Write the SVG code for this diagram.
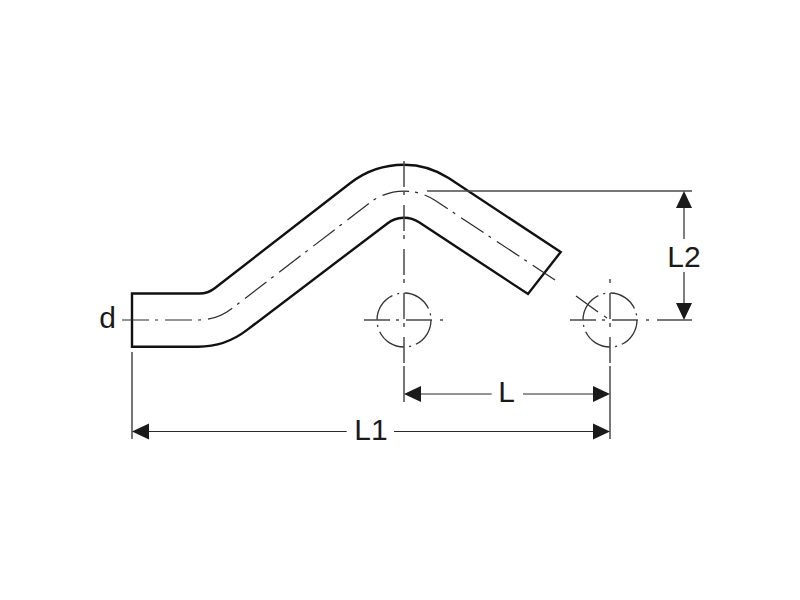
<svg xmlns="http://www.w3.org/2000/svg" width="800" height="600" viewBox="0 0 800 600">
<style>
.pipe{fill:none;stroke:#111;stroke-width:2.4;stroke-linejoin:miter}
.thin{fill:none;stroke:#2a2a2a;stroke-width:1.2}
.axis{fill:none;stroke:#4a4a4a;stroke-width:1.5}
.cl{stroke-dasharray:27 6 3 7}
.hole{fill:none;stroke:#333;stroke-width:1.3;stroke-dasharray:30 5 2 5.410}
.vert{stroke-dasharray:26 4 4 10}
.horz{stroke-dasharray:26 6 3 7 26 8 3}
.arrow{fill:#1a1a1a}
text{font-family:"Liberation Sans",Arial,sans-serif;font-size:30px;fill:#1a1a1a;text-anchor:middle}
</style>
<rect width="800" height="600" fill="#fff"/>
<g id="pipe">
<path class="pipe" d="M132 293.500H199.400A25 25 0 0 0 214.700 288.200L350.100 183.200A87.800 87.800 0 0 1 404 164.700A81 81 0 0 1 448.600 178.100L560.700 252L528 294L419.100 222.300A27 27 0 0 0 387.700 223.200L246.800 330.100A80 80 0 0 1 197.600 346.700H132Z"/>
</g>
<g id="connectors">
<path class="thin cl" d="M122 320H199A53 53 0 0 0 231.200 309L369.800 202.800A56 56 0 0 1 434.900 200.300L555 280"/>
<path class="axis vert" d="M404 161V363"/>
<path class="axis" d="M404 366V402"/>
<path class="axis vert" stroke-dashoffset="30" d="M610 279V363"/>
<path class="axis" d="M610 366V439"/>
<path class="axis" d="M132 352V439"/>
<path class="axis horz" d="M364 320H443"/>
<path class="axis horz" d="M570 320H651"/>
<path class="axis" d="M657 320H692"/>
<path class="axis" d="M427 191H692"/>
<path class="thin" d="M576 296L598 312M604 316L607 318"/>
<path class="thin" d="M421 394H491.700M523 394H593"/>
<path class="thin" d="M149 431.500H346.700M394 431.500H593"/>
<path class="thin" d="M684 208V239M684 272V303"/>
<path class="arrow" d="M404 394l17-8v16zM610 394l-17-8v16zM132 431.500l17-8v16zM610 431.500l-17-8v16zM684 191l-8 17h16zM684 320l-8-17h16z"/>
</g>
<g id="hole-left"><circle class="hole" cx="404" cy="320" r="27"/></g>
<g id="hole-right"><circle class="hole" cx="610" cy="320" r="27"/></g>
<g id="labels">
<text x="107.500" y="327.500">d</text>
<text x="506.500" y="402">L</text>
<text x="371" y="439.500">L1</text>
<text x="684" y="266.500">L2</text>
</g>
</svg>
